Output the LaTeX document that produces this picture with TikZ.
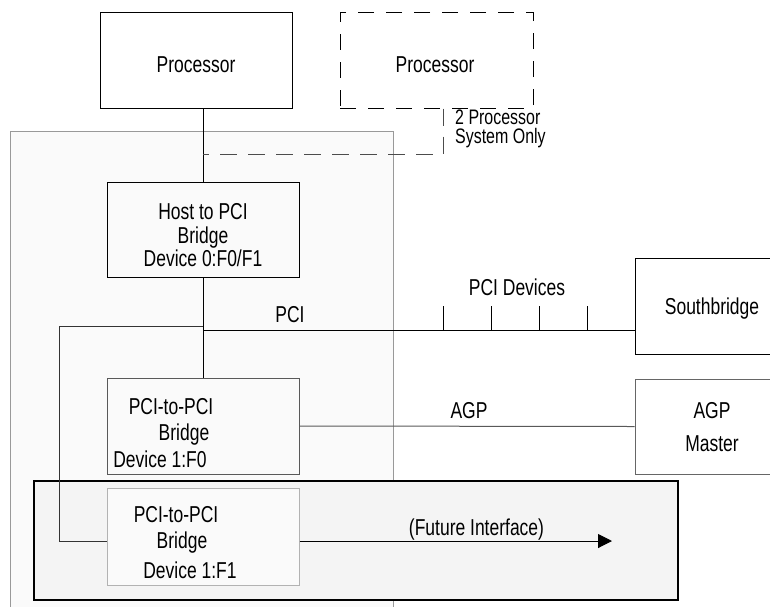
\documentclass[tikz,border=0pt]{standalone}
\usepackage{fontspec}
\setmainfont{Liberation Sans}[FakeStretch=0.76]
\usetikzlibrary{arrows.meta}
\definecolor{bgfill}{HTML}{FAFAFA}
\definecolor{futfill}{HTML}{F4F4F4}
\definecolor{bgline}{HTML}{999999}
\tikzset{
  box/.style={draw=black, line width=1pt, fill=white, minimum width=192pt, inner sep=0pt},
  grbox/.style={box, draw=black!65, fill=bgfill},
  ltbox/.style={box, draw=black!30, fill=bgfill},
  txt/.style={font=\fontsize{23}{23}\selectfont, inner sep=0pt, anchor=base},
  wire/.style={line width=1pt, draw=black},
  gwire/.style={line width=1pt, draw=black!65},
  dwire/.style={line width=1pt, draw=black!70, dash pattern=on 17pt off 11pt},
}
\begin{document}
\begin{tikzpicture}[x=1pt,y=-1pt]
\useasboundingbox (0,0) rectangle (770,606);
% background region
\draw[draw=bgline, fill=bgfill, line width=1pt] (10,131) rectangle (393,620);
\node[draw=black, line width=2.8pt, fill=futfill, minimum width=644pt, minimum height=119pt, inner sep=0pt] (future) at (356,540.5) {};
% boxes
\node[box, minimum height=96pt] (proc) at (196,60) {};
\node[box, draw=black, dash pattern=on 16pt off 12pt, fill=none, minimum width=193pt, minimum height=96pt] (proc2) at (436.5,60) {};
\node[box, fill=bgfill, minimum height=95pt] (host) at (203,229.5) {};
\node[grbox, minimum height=96pt] (pp0) at (203,426) {};
\node[ltbox, minimum height=97pt] (pp1) at (203,536.5) {};
\node[box, minimum width=140pt, minimum height=96pt] (south) at (705,306) {};
\node[box, draw=black!60, minimum width=140pt, minimum height=95pt] (agpm) at (705,426.5) {};
% connector coordinates
\coordinate (dj) at (443,154);
\coordinate (pcij) at (203,330);
\coordinate (loopj) at (203,326);
\coordinate (loopc) at (59,326);
\coordinate (fij) at (59,541);
\coordinate (arrend) at (612,541);
% connectors
\draw[wire] (proc.south -| host.north) -- (host.north);
\draw[dwire] (proc2.south -| dj) -- (dj) -- (dj -| host.north);
\draw[wire] (host.south) -- (pp0.north);
\draw[wire] (pcij) -- (pcij -| south.west);
\foreach \tx in {443,491,539,587}{
  \coordinate (tk\tx) at (\tx,306);
  \draw[wire] (tk\tx) -- (tk\tx |- pcij);
}
\draw[wire, draw=black!80] (loopj) -- (loopc) -- (fij) -- (fij -| pp1.west);
\draw[gwire] (pp0.east) -- (agpm.west);
\draw[wire, -{Triangle[length=14pt, width=14pt]}] (fij -| pp1.east) -- (arrend);
% texts
\node[txt] (tproc) at (196,72) {Processor};
\node[txt] (tproc2) at (435,72) {Processor};
\node[txt, anchor=base west, align=left, font=\fontsize{21}{18.5}\selectfont] (t2p) at (455,143) {2 Processor\\System Only};
\node[txt] (th1) at (203,219) {Host to PCI};
\node[txt] (th2) at (203,243) {Bridge};
\node[txt] (th3) at (203,266) {Device 0:F0/F1};
\node[txt] (tpci) at (290,322) {PCI};
\node[txt] (tpcid) at (517,295) {PCI Devices};
\node[txt] (tsouth) at (712,314) {Southbridge};
\node[txt] (tagp) at (469,418) {AGP};
\node[txt] (tam1) at (712,418) {AGP};
\node[txt] (tam2) at (712,451) {Master};
\node[txt] (ta1) at (171,414) {PCI-to-PCI};
\node[txt] (ta2) at (184,440) {Bridge};
\node[txt] (ta3) at (160,467) {Device 1:F0};
\node[txt] (tb1) at (176,522) {PCI-to-PCI};
\node[txt] (tb2) at (182,548) {Bridge};
\node[txt] (tb3) at (190,578) {Device 1:F1};
\node[txt] (tfut) at (476.5,535) {(Future Interface)};
\end{tikzpicture}
\end{document}
